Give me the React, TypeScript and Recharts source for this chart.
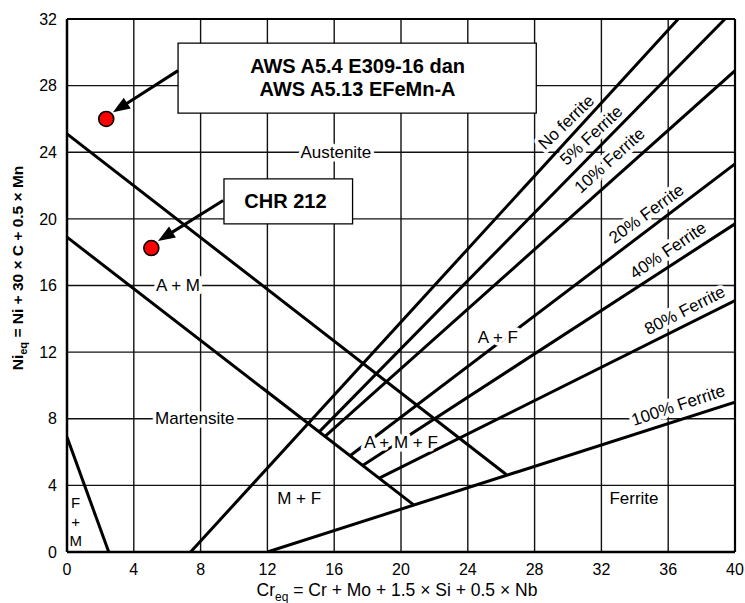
import React from 'react';
import {
  ComposedChart,
  Line,
  Scatter,
  XAxis,
  YAxis,
  CartesianGrid,
  ReferenceLine,
  ReferenceDot,
  ReferenceArea,
} from 'recharts';

const FONT = '"Liberation Sans", Arial, Helvetica, sans-serif';

// axis ticks
const xTicks = [0, 4, 8, 12, 16, 20, 24, 28, 32, 36, 40];
const yTicks = [0, 4, 8, 12, 16, 20, 24, 28, 32];

// phase boundary lines (Cr_eq, Ni_eq)
const fmBoundary = [{ x: 0, y: 6.9 }, { x: 2.5, y: 0 }];
const upperMartensite = [{ x: 0, y: 25.1 }, { x: 26.3, y: 4.65 }];
const lowerMartensite = [{ x: 0, y: 18.9 }, { x: 20.8, y: 2.8 }];
const noFerrite = [{ x: 7.4, y: 0 }, { x: 36.6, y: 32 }];
const ferrite5 = [{ x: 15.1, y: 7.21 }, { x: 39.4, y: 32 }];
const ferrite10 = [{ x: 15.45, y: 6.94 }, { x: 40, y: 28.9 }];
const ferrite20 = [{ x: 16.95, y: 5.78 }, { x: 40, y: 23.3 }];
const ferrite40 = [{ x: 17.7, y: 5.2 }, { x: 40, y: 19.7 }];
const ferrite80 = [{ x: 18.7, y: 4.43 }, { x: 40, y: 15.1 }];
const ferrite100 = [{ x: 12, y: 0 }, { x: 40, y: 9.0 }];

const phaseLines = [
  { id: 'fm', data: fmBoundary },
  { id: 'upperM', data: upperMartensite },
  { id: 'lowerM', data: lowerMartensite },
  { id: 'f0', data: noFerrite },
  { id: 'f5', data: ferrite5 },
  { id: 'f10', data: ferrite10 },
  { id: 'f20', data: ferrite20 },
  { id: 'f40', data: ferrite40 },
  { id: 'f80', data: ferrite80 },
  { id: 'f100', data: ferrite100 },
];

// plotted weld metals
const e309Point = [{ x: 2.35, y: 26.0 }];
const chr212Point = [{ x: 5.05, y: 18.25 }];

// annotation boxes
const e309Box = { x1: 6.65, x2: 28.1, y1: 26.35, y2: 30.55 };
const chr212Box = { x1: 9.4, x2: 17.1, y1: 19.7, y2: 22.4 };
const e309Text = [
  { text: 'AWS A5.4 E309-16 dan', x: 17.4, y: 28.76 },
  { text: 'AWS A5.13 EFeMn-A', x: 17.4, y: 27.38 },
];
const chr212Text = [{ text: 'CHR 212', x: 13.08, y: 20.65 }];

// arrows
const arrows = [
  { from: { x: 6.65, y: 28.9 }, to: { x: 2.75, y: 26.4 } },
  { from: { x: 9.35, y: 21.1 }, to: { x: 5.45, y: 18.67 } },
];

// region labels
const regionLabels = [
  { text: 'Austenite', x: 16.1, y: 24, halo: true, size: 17 },
  { text: 'A + M', x: 6.65, y: 16, halo: true, size: 17 },
  { text: 'Martensite', x: 7.65, y: 8, halo: true, size: 17 },
  { text: 'M + F', x: 13.9, y: 3.2, halo: false, size: 17 },
  { text: 'A + M + F', x: 20.0, y: 6.6, halo: true, size: 17 },
  { text: 'A + F', x: 25.8, y: 12.85, halo: true, size: 17 },
  { text: 'Ferrite', x: 33.95, y: 3.2, halo: false, size: 17 },
  { text: 'F', x: 0.52, y: 3.0, halo: false, size: 15 },
  { text: '+', x: 0.52, y: 1.86, halo: false, size: 15 },
  { text: 'M', x: 0.52, y: 0.72, halo: false, size: 15 },
];

// labels along the ferrite lines
const lineLabels = [
  { text: 'No ferrite', x: 29.9, y: 25.8, angle: 44 },
  { text: '5% Ferrite', x: 31.4, y: 25.0, angle: 43 },
  { text: '10% Ferrite', x: 32.5, y: 23.5, angle: 42 },
  { text: '20% Ferrite', x: 34.7, y: 20.3, angle: 36 },
  { text: '40% Ferrite', x: 36.0, y: 18.1, angle: 34 },
  { text: '80% Ferrite', x: 37.0, y: 14.5, angle: 27 },
  { text: '100% Ferrite', x: 36.6, y: 8.8, angle: 18.5 },
];

const makeText =
  (text: string, opts: { angle?: number; halo?: boolean; size?: number; bold?: boolean; baseline?: string }) =>
  (p: any) => {
    const { cx, cy } = p;
    const angle = opts.angle || 0;
    return (
      <text
        x={cx}
        y={cy}
        textAnchor="middle"
        dominantBaseline={opts.baseline || 'central'}
        fontFamily={FONT}
        fontSize={opts.size || 17}
        fontWeight={opts.bold ? 'bold' : 'normal'}
        fill="#000"
        stroke={opts.halo ? '#fff' : 'none'}
        strokeWidth={opts.halo ? 7 : 0}
        strokeLinejoin="round"
        paintOrder="stroke"
        transform={angle ? `rotate(${-angle} ${cx} ${cy})` : undefined}
      >
        {text}
      </text>
    );
  };

const arrowShape = (p: any) => {
  const { x1, y1, x2, y2 } = p;
  const dx = x2 - x1;
  const dy = y2 - y1;
  const len = Math.sqrt(dx * dx + dy * dy) || 1;
  const ux = dx / len;
  const uy = dy / len;
  const hl = 17;
  const hw = 6.5;
  const bx = x2 - ux * hl;
  const by = y2 - uy * hl;
  const px = -uy;
  const py = ux;
  return (
    <g>
      <line x1={x1} y1={y1} x2={bx + ux * 2} y2={by + uy * 2} stroke="#000" strokeWidth={3} />
      <polygon
        points={`${x2},${y2} ${bx + px * hw},${by + py * hw} ${bx - px * hw},${by - py * hw}`}
        fill="#000"
      />
    </g>
  );
};

const redDot = (p: any) => (
  <circle cx={p.cx} cy={p.cy} r={7.5} fill="#ff0000" stroke="#000" strokeWidth={1.6} />
);

const renderXLabel = (props: any) => {
  const vb = props.viewBox || { x: 59, y: 544, width: 668, height: 46 };
  const cx = vb.x + vb.width / 2 - 4;
  const y = vb.y + 44;
  return (
    <text x={cx} y={y} textAnchor="middle" fontFamily={FONT} fontSize={17.5} fill="#000">
      <tspan>Cr</tspan>
      <tspan fontSize={12} dy={5}>eq</tspan>
      <tspan dy={-5}> = Cr + Mo + 1.5 × Si + 0.5 × Nb</tspan>
    </text>
  );
};

const renderYLabel = (props: any) => {
  const vb = props.viewBox || { x: 0, y: 11, width: 59, height: 533 };
  const cx = vb.x + 15;
  const cy = vb.y + 249;
  return (
    <text
      x={cx}
      y={cy}
      textAnchor="middle"
      fontFamily={FONT}
      fontSize={15.5}
      fontWeight="bold"
      fill="#000"
      transform={`rotate(-90 ${cx} ${cy})`}
    >
      <tspan>Ni</tspan>
      <tspan fontSize={11} dy={4}>eq</tspan>
      <tspan dy={-4}> = Ni + 30 × C + 0.5 × Mn</tspan>
    </text>
  );
};

export default function App() {
  return (
    <div style={{ position: 'fixed', top: 8, left: 8, width: 737, height: 595, background: '#fff' }}>
      <ComposedChart
        width={737}
        height={595}
        margin={{ top: 11, right: 10, bottom: 5, left: 0 }}
      >
        <CartesianGrid stroke="#111" strokeWidth={1.4} />
        <XAxis
          dataKey="x"
          type="number"
          domain={[0, 40]}
          ticks={xTicks}
          allowDataOverflow
          height={46}
          tickLine={false}
          tickMargin={6}
          tick={{ fontSize: 16, fill: '#000', fontFamily: FONT }}
          axisLine={{ stroke: '#000', strokeWidth: 2.5 }}
          label={renderXLabel}
        />
        <YAxis
          dataKey="y"
          type="number"
          domain={[0, 32]}
          ticks={yTicks}
          allowDataOverflow
          width={59}
          tickLine={false}
          tickMargin={4}
          tick={{ fontSize: 16, fill: '#000', fontFamily: FONT }}
          axisLine={{ stroke: '#000', strokeWidth: 2.5 }}
          label={renderYLabel}
        />
        <ReferenceLine y={32} stroke="#000" strokeWidth={2.2} />
        <ReferenceLine x={40} stroke="#000" strokeWidth={2.2} />

        {phaseLines.map((l) => (
          <Line
            key={l.id}
            data={l.data}
            dataKey="y"
            type="linear"
            stroke="#000"
            strokeWidth={3}
            dot={false}
            activeDot={false}
            isAnimationActive={false}
            legendType="none"
          />
        ))}

        <ReferenceArea
          x1={e309Box.x1}
          x2={e309Box.x2}
          y1={e309Box.y1}
          y2={e309Box.y2}
          fill="#fff"
          fillOpacity={1}
          stroke="#000"
          strokeWidth={1.3}
        />
        <ReferenceArea
          x1={chr212Box.x1}
          x2={chr212Box.x2}
          y1={chr212Box.y1}
          y2={chr212Box.y2}
          fill="#fff"
          fillOpacity={1}
          stroke="#000"
          strokeWidth={1.3}
        />

        {regionLabels.map((l) => (
          <ReferenceDot
            key={l.text + l.x}
            x={l.x}
            y={l.y}
            r={0}
            shape={makeText(l.text, { halo: l.halo, size: l.size })}
          />
        ))}
        {lineLabels.map((l) => (
          <ReferenceDot
            key={l.text}
            x={l.x}
            y={l.y}
            r={0}
            shape={makeText(l.text, { angle: l.angle, halo: true })}
          />
        ))}
        {[...e309Text, ...chr212Text].map((l) => (
          <ReferenceDot
            key={l.text}
            x={l.x}
            y={l.y}
            r={0}
            shape={makeText(l.text, { size: 20, bold: true, baseline: 'alphabetic' })}
          />
        ))}
        {arrows.map((a, i) => (
          <ReferenceLine
            key={'arrow' + i}
            segment={[a.from, a.to]}
            stroke="#000"
            shape={arrowShape}
          />
        ))}

        <Scatter data={e309Point} shape={redDot} isAnimationActive={false} legendType="none" />
        <Scatter data={chr212Point} shape={redDot} isAnimationActive={false} legendType="none" />
      </ComposedChart>
    </div>
  );
}
